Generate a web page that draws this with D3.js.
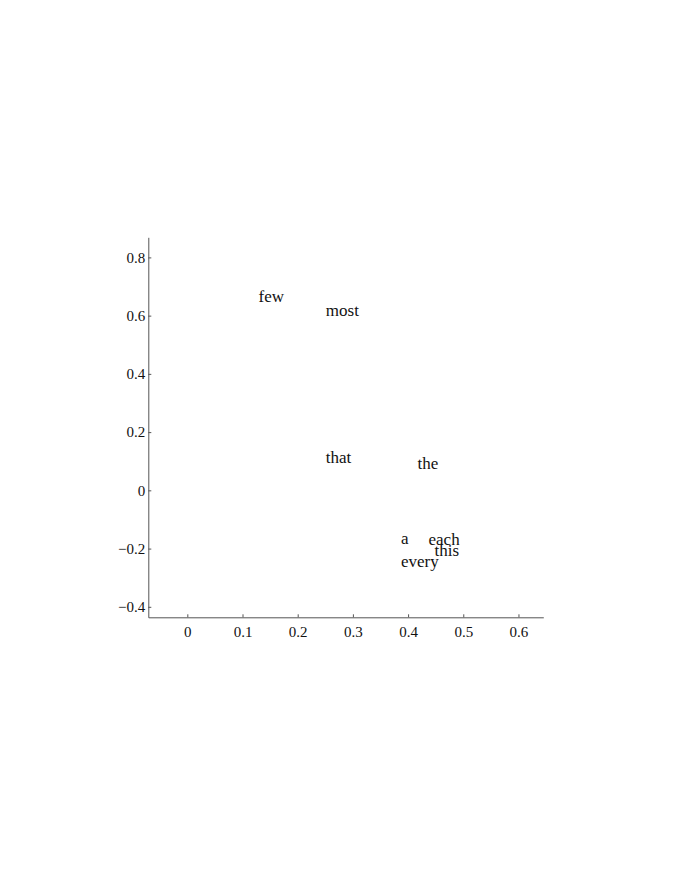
<!DOCTYPE html>
<html>
<head>
<meta charset="utf-8">
<script src="https://cdn.jsdelivr.net/npm/d3@7"></script>
<style>
  body { margin: 0; background: #fff; }
  .axis path, .axis line { stroke: #555; }
  .axis text { font-family: "Liberation Serif", "Times New Roman", serif; font-size: 15px; fill: #111; }
</style>
</head>
<body>
<svg id="chart" width="676" height="872"></svg>
<script>
// words and their 2-d coordinates
var words = ["few", "most", "that", "the", "a", "each", "this", "every"];
var xVals = [0.129, 0.251, 0.251, 0.417, 0.387, 0.437, 0.448, 0.387];
var yVals = [0.664, 0.615, 0.113, 0.092, -0.167, -0.171, -0.207, -0.245];

// tick values and labels
var xTickValues = [0, 0.1, 0.2, 0.3, 0.4, 0.5, 0.6];
var xTickLabels = ["0", "0.1", "0.2", "0.3", "0.4", "0.5", "0.6"];
var yTickValues = [-0.4, -0.2, 0, 0.2, 0.4, 0.6, 0.8];
var yTickLabels = ["\u22120.4", "\u22120.2", "0", "0.2", "0.4", "0.6", "0.8"];

var svg = d3.select("#chart"),
    margin = {top: 237.3, left: 148.3},
    width = 543.3 - margin.left,
    height = 617.3 - margin.top,
    g = svg.append("g").attr("transform", "translate(" + margin.left + "," + margin.top + ")");

var x = d3.scaleLinear()
    .domain([-0.0707, 0.645])
    .range([0, width]);

var y = d3.scaleLinear()
    .domain([-0.436, 0.869])
    .range([height, 0]);

// x axis
g.append("g")
    .attr("class", "axis")
    .attr("transform", "translate(0," + height + ")")
    .call(d3.axisBottom(x)
      .tickValues(xTickValues)
      .tickFormat(function(d, i) { return xTickLabels[i]; })
      .tickSizeInner(-3)
      .tickSizeOuter(0)
      .tickPadding(9));

// y axis
g.append("g")
    .attr("class", "axis")
    .call(d3.axisLeft(y)
      .tickValues(yTickValues)
      .tickFormat(function(d, i) { return yTickLabels[i]; })
      .tickSizeInner(-3)
      .tickSizeOuter(0)
      .tickPadding(3));

// word labels
g.append("g")
    .selectAll("text")
    .data(words)
    .enter().append("text")
      .attr("x", function(d, i) { return x(xVals[i]); })
      .attr("y", function(d, i) { return y(yVals[i]); })
      .attr("dy", "0.3em")
      .attr("font-family", "Liberation Serif, Times New Roman, serif")
      .attr("font-size", "17px")
      .attr("fill", "#111")
      .text(function(d) { return d; });
</script>
</body>
</html>
